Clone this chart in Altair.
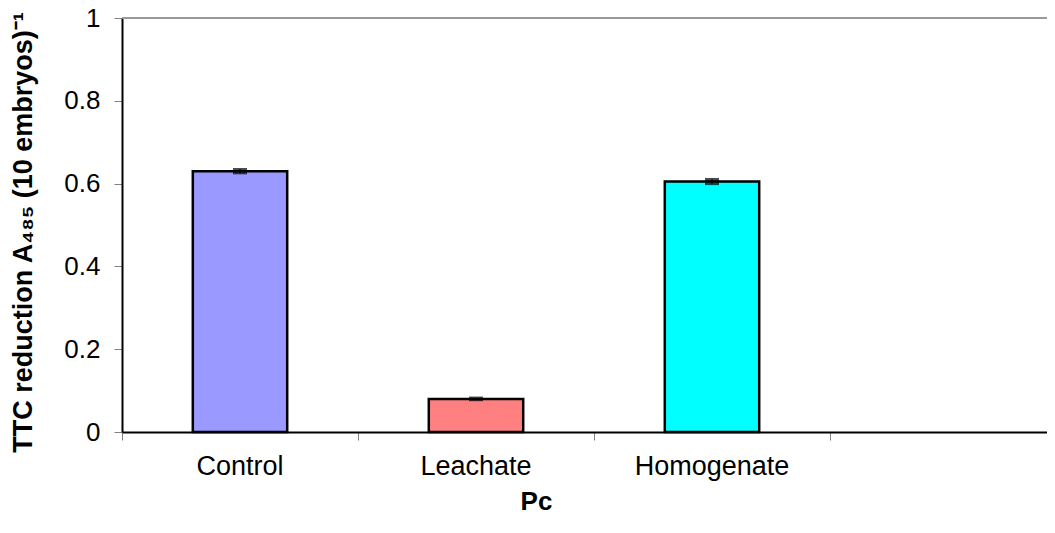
import altair as alt
import pandas as pd

categories = ["Control", "Leachate", "Homogenate"]
values = [0.630, 0.080, 0.605]
errors = [0.004, 0.002, 0.005]
colors = ["#9999FF", "#FF8080", "#00FFFF"]
y_ticks = [0, 0.2, 0.4, 0.6, 0.8, 1]

df = pd.DataFrame({"cat": categories, "val": values, "err": errors, "color": colors})
df["pos"] = df.index + 0.5
df["x0"] = df["pos"] - 0.2
df["x1"] = df["pos"] + 0.2
df["lo"] = df["val"] - df["err"]
df["hi"] = df["val"] + df["err"]

W, H = 925, 414
band = 236
xscale = alt.Scale(domain=[0, W / band], nice=False, zero=False)
yscale = alt.Scale(domain=[0, 1], nice=False)

base = alt.Chart(df)

bars = base.mark_bar(stroke="black", strokeWidth=2.5).encode(
    x=alt.X("x0:Q", scale=xscale,
            axis=alt.Axis(values=[0, 1, 2, 3], labels=False, tickSize=8, tickColor="#808080",
                          domainColor="black", domainWidth=2, grid=False,
                          title="Pc", titleFont="Liberation Sans", titleFontSize=26,
                          titleFontWeight="bold", titleColor="black",
                          titleX=414, titleY=56, titleBaseline="top", titleAnchor="middle")),
    x2="x1:Q",
    y=alt.Y("val:Q", scale=yscale,
            axis=alt.Axis(values=y_ticks, format="~g", tickSize=8, tickColor="#808080",
                          domainColor="black", domainWidth=2, grid=False,
                          labelFont="Liberation Sans", labelFontSize=26, labelColor="black",
                          labelPadding=14,
                          title="TTC reduction A\u2084\u2088\u2085  (10 embryos)\u207b\u00b9",
                          titleFont="Liberation Sans", titleFontSize=27, titleFontWeight="bold",
                          titleColor="black", titleX=-112, titleY=214, titleAngle=270,
                          titleBaseline="top", titleAnchor="middle")),
    y2=alt.datum(0),
    fill=alt.Color("color:N", scale=None),
)

err_rule = base.mark_rule(color="black", strokeWidth=2).encode(
    x=alt.X("pos:Q", scale=xscale), y=alt.Y("lo:Q", scale=yscale), y2="hi:Q"
)
cap_hi = base.mark_tick(color="black", thickness=3, size=14, orient="horizontal").encode(
    x=alt.X("pos:Q", scale=xscale), y=alt.Y("hi:Q", scale=yscale)
)
cap_lo = base.mark_tick(color="black", thickness=3, size=14, orient="horizontal").encode(
    x=alt.X("pos:Q", scale=xscale), y=alt.Y("lo:Q", scale=yscale)
)

top_rule = alt.Chart(pd.DataFrame({"v": [1.0]})).mark_rule(color="#999999", strokeWidth=2).encode(
    y=alt.Y("v:Q", scale=yscale)
)

labels = base.mark_text(font="Liberation Sans", fontSize=27, color="black",
                        baseline="alphabetic", align="center").encode(
    x=alt.X("pos:Q", scale=xscale), y=alt.value(H + 43), text="cat:N"
)

chart = alt.layer(top_rule, bars, err_rule, cap_hi, cap_lo, labels).properties(
    width=W, height=H,
    autosize=alt.AutoSizeParams(type="none"),
    padding={"left": 114, "top": 10, "right": 0, "bottom": 93},
).configure_view(stroke=None).configure(background="white")

chart.save("out.html", embed_options={"renderer": "svg", "actions": False})
